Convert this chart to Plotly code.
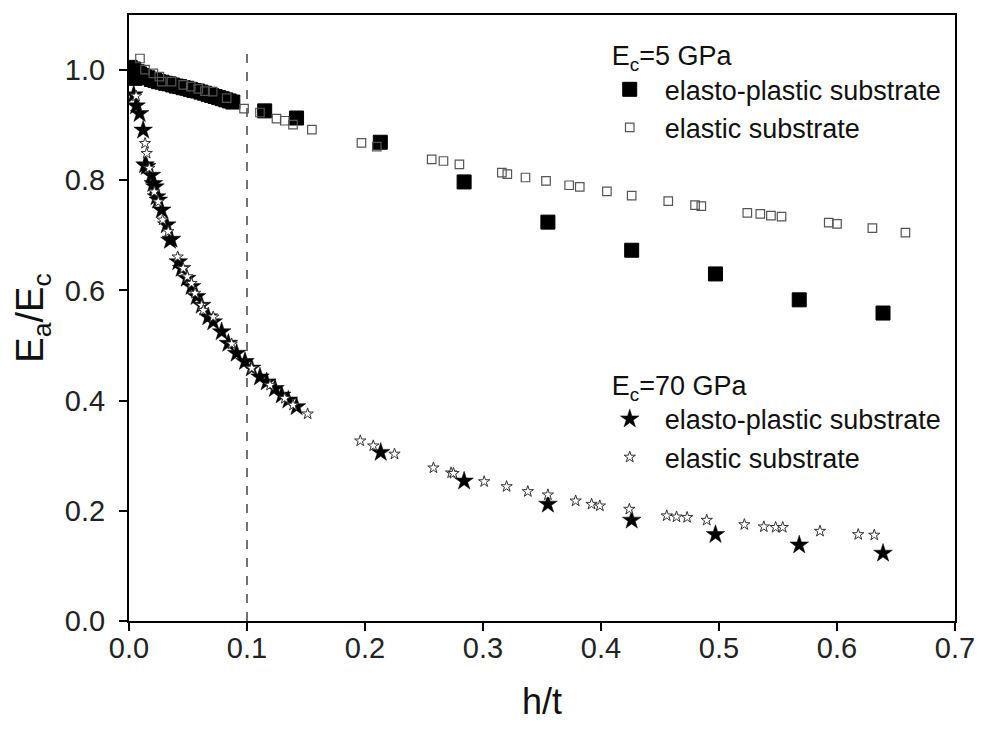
import plotly.graph_objects as go

# E_c = 5 GPa, elasto-plastic substrate (filled squares)
ep5_x = [0.001, 0.002, 0.003, 0.004, 0.005, 0.007, 0.009, 0.011, 0.013, 0.016,
         0.019, 0.022, 0.025, 0.028, 0.031, 0.034, 0.037, 0.040, 0.043, 0.046,
         0.049, 0.052, 0.055, 0.058, 0.061, 0.064, 0.067, 0.070, 0.073, 0.076,
         0.079, 0.082, 0.085, 0.088,
         0.115, 0.142, 0.213, 0.284, 0.355, 0.426, 0.497, 0.568, 0.639]
ep5_y = [1.005, 0.998, 0.990, 1.002, 0.985, 0.997, 0.993, 0.990, 0.988, 0.986,
         0.983, 0.981, 0.979, 0.978, 0.976, 0.975, 0.973, 0.971, 0.970, 0.968,
         0.967, 0.965, 0.963, 0.962, 0.960, 0.958, 0.956, 0.954, 0.952, 0.950,
         0.948, 0.946, 0.944, 0.942,
         0.926, 0.913, 0.869, 0.797, 0.724, 0.673, 0.630, 0.583, 0.559]

# E_c = 5 GPa, elastic substrate (open squares)
el5_x = [0.0093, 0.0136, 0.0206, 0.0257, 0.0277, 0.036, 0.046, 0.0523, 0.0587, 0.0644,
         0.0709, 0.0828, 0.0975, 0.111, 0.125, 0.132, 0.139, 0.155, 0.197, 0.210,
         0.2565, 0.2665, 0.280, 0.316, 0.3206, 0.336, 0.3534, 0.373, 0.382, 0.405,
         0.426, 0.457, 0.4797, 0.485, 0.524, 0.535, 0.544, 0.553, 0.593, 0.600,
         0.630, 0.658]
el5_y = [1.021, 1.001, 0.994, 0.988, 0.979, 0.979, 0.973, 0.970, 0.966, 0.962,
         0.961, 0.949, 0.930, 0.923, 0.912, 0.908, 0.901, 0.892, 0.868, 0.861,
         0.838, 0.835, 0.829, 0.814, 0.811, 0.805, 0.799, 0.791, 0.788, 0.780,
         0.772, 0.762, 0.755, 0.753, 0.741, 0.739, 0.736, 0.734, 0.723, 0.721,
         0.713, 0.705]

# E_c = 70 GPa, elasto-plastic substrate (filled stars)
ep70_x = [0.004, 0.006, 0.009, 0.012, 0.0136, 0.015, 0.019, 0.0206, 0.022, 0.0234,
          0.0248, 0.0277, 0.032, 0.0347, 0.036, 0.0418, 0.0446, 0.049, 0.053, 0.0573,
          0.0616, 0.0672, 0.0714, 0.0785, 0.0842, 0.0912, 0.0983, 0.104, 0.111, 0.1167,
          0.1237, 0.1294, 0.135, 0.142,
          0.2133, 0.284, 0.355, 0.426, 0.497, 0.568, 0.639]
ep70_y = [0.955, 0.935, 0.921, 0.891, 0.828, 0.825, 0.809, 0.794, 0.788, 0.770,
          0.764, 0.746, 0.719, 0.691, 0.693, 0.652, 0.640, 0.622, 0.607, 0.589,
          0.573, 0.552, 0.543, 0.525, 0.504, 0.486, 0.471, 0.459, 0.443, 0.434,
          0.422, 0.410, 0.401, 0.389,
          0.306, 0.254, 0.212, 0.183, 0.157, 0.138, 0.123]

# E_c = 70 GPa, elastic substrate (open stars)
el70_x = [0.006, 0.0136, 0.015, 0.0172, 0.0214, 0.0248, 0.0285, 0.0333, 0.0412, 0.046,
          0.0494, 0.053, 0.056, 0.0616, 0.063, 0.0714, 0.087, 0.104, 0.1195, 0.132,
          0.139, 0.1514, 0.196, 0.207, 0.225, 0.258, 0.273, 0.275, 0.301, 0.320,
          0.338, 0.355, 0.3785, 0.392, 0.399, 0.424, 0.4557, 0.464, 0.473, 0.4896,
          0.5215, 0.538, 0.548, 0.554, 0.5856, 0.618, 0.6316]
el70_y = [0.953, 0.867, 0.849, 0.822, 0.779, 0.761, 0.728, 0.707, 0.661, 0.640,
          0.625, 0.613, 0.595, 0.573, 0.564, 0.552, 0.503, 0.459, 0.428, 0.404,
          0.392, 0.376, 0.327, 0.318, 0.303, 0.278, 0.269, 0.268, 0.253, 0.244,
          0.235, 0.229, 0.218, 0.212, 0.209, 0.203, 0.191, 0.189, 0.188, 0.183,
          0.175, 0.171, 0.170, 0.170, 0.163, 0.157, 0.156]

x_ticks = [0.0, 0.1, 0.2, 0.3, 0.4, 0.5, 0.6, 0.7]
y_ticks = [0.0, 0.2, 0.4, 0.6, 0.8, 1.0]
threshold = 0.1

FONT = "Arial, 'Liberation Sans', sans-serif"
SP = "\u00a0\u00a0"

fig = go.Figure()
fig.add_trace(go.Scatter(
    x=ep5_x, y=ep5_y, mode="markers", name=SP + "elasto-plastic substrate",
    marker=dict(symbol="square", size=14, color="black", line=dict(color="black", width=1)),
    legend="legend"))
fig.add_trace(go.Scatter(
    x=el5_x, y=el5_y, mode="markers", name=SP + "elastic substrate",
    marker=dict(symbol="square-open", size=8.5, color="#555555", line=dict(width=1.2)),
    legend="legend"))
fig.add_trace(go.Scatter(
    x=ep70_x, y=ep70_y, mode="markers", name=SP + "elasto-plastic substrate",
    marker=dict(symbol="star", size=14, color="black", line=dict(color="black", width=0.5)),
    legend="legend2"))
fig.add_trace(go.Scatter(
    x=el70_x, y=el70_y, mode="markers", name=SP + "elastic substrate",
    marker=dict(symbol="star", size=8.5, color="white", line=dict(color="#333333", width=1)),
    legend="legend2"))

fig.add_shape(type="line", xref="x", yref="y", x0=threshold, x1=threshold, y0=0, y1=1.03,
              line=dict(color="#444444", width=1.5, dash="dash"), layer="below")

axis_common = dict(
    showgrid=False, zeroline=False, showline=True, linecolor="black", linewidth=2,
    mirror=True, ticks="outside", ticklen=8, tickwidth=2, tickcolor="black",
    tickfont=dict(family=FONT, size=29, color="#222222"), tickformat=".1f",
)

fig.update_layout(
    width=981, height=731,
    margin=dict(l=129, r=26, t=15, b=110, autoexpand=False),
    paper_bgcolor="white", plot_bgcolor="white",
    font=dict(family=FONT, color="#111111"),
    xaxis=dict(range=[0, 0.7], tickvals=x_ticks, ticklabelstandoff=-8,
               title=dict(text="h/t", font=dict(family=FONT, size=36), standoff=26),
               **axis_common),
    yaxis=dict(range=[0, 1.1], tickvals=y_ticks, ticklabelstandoff=8,
               title=dict(text="E<sub>a</sub>/E<sub>c</sub>", font=dict(family=FONT, size=38), standoff=10),
               **axis_common),
    legend=dict(
        x=0.582, y=0.975, xanchor="left", yanchor="top",
        bgcolor="rgba(0,0,0,0)", borderwidth=0,
        font=dict(family=FONT, size=27, color="#111111"),
        title=dict(text="E<sub>c</sub>=5 GPa", font=dict(family=FONT, size=27, color="#111111")),
        itemsizing="trace", tracegroupgap=0,
    ),
    legend2=dict(
        x=0.582, y=0.431, xanchor="left", yanchor="top",
        bgcolor="rgba(0,0,0,0)", borderwidth=0,
        font=dict(family=FONT, size=27, color="#111111"),
        title=dict(text="E<sub>c</sub>=70 GPa", font=dict(family=FONT, size=27, color="#111111")),
        itemsizing="trace", tracegroupgap=0,
    ),
)

fig.write_html("out.html")
